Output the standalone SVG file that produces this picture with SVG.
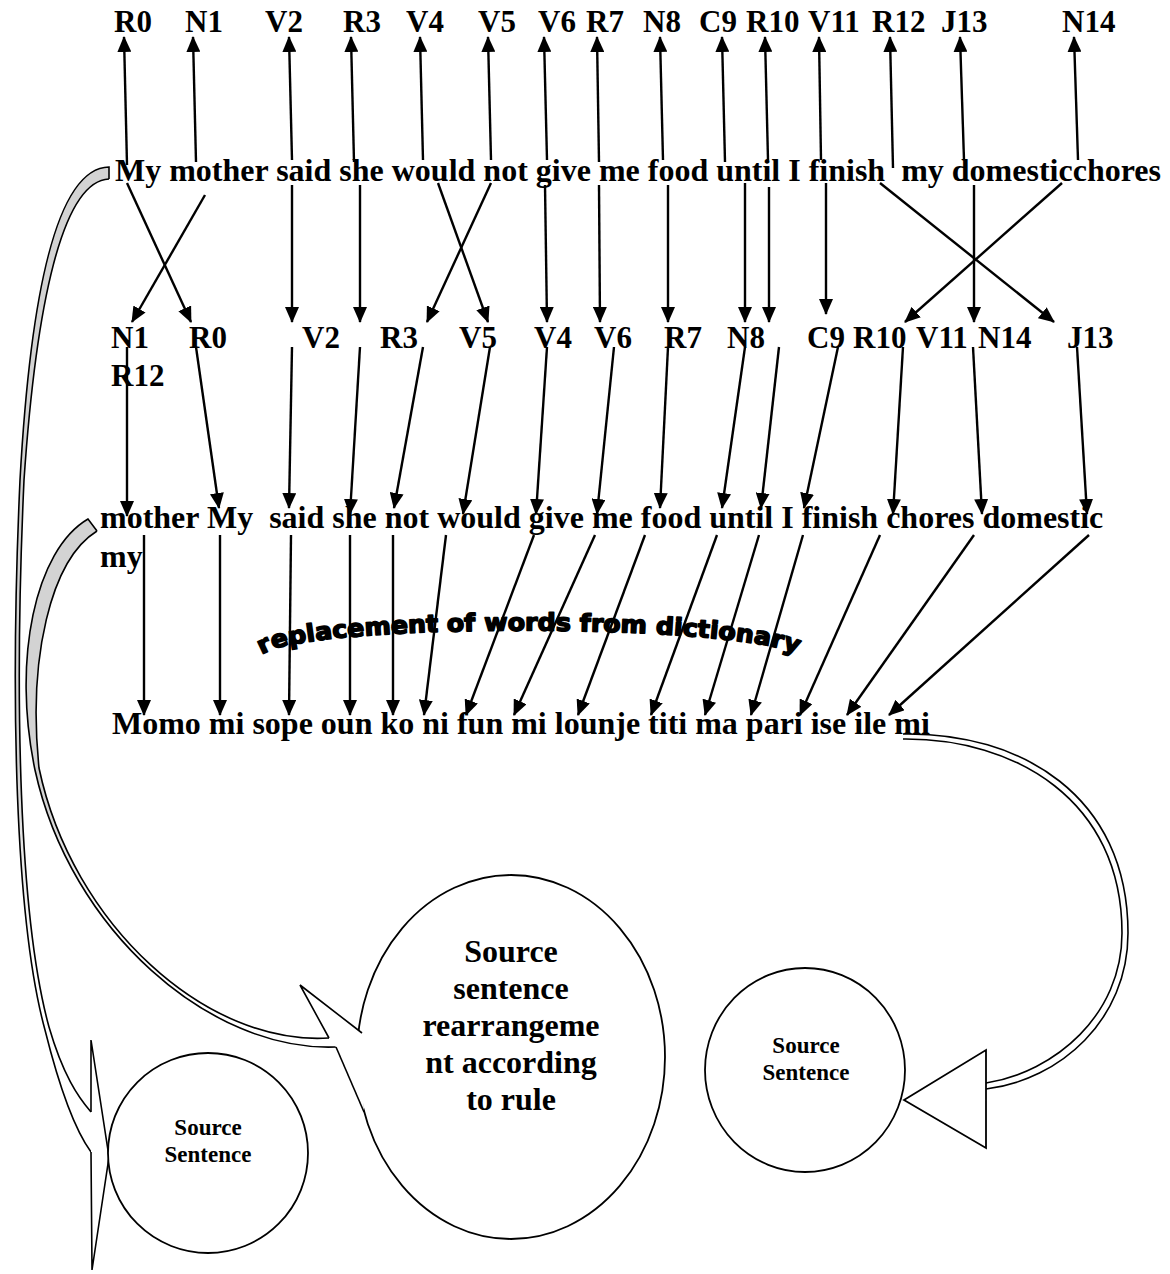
<svg xmlns="http://www.w3.org/2000/svg" width="1170" height="1274" viewBox="0 0 1170 1274">
<style>
.lbl{font-family:"Liberation Serif","Times New Roman",serif;font-weight:bold;font-size:31px;fill:#000}
.sen{font-family:"Liberation Serif","Times New Roman",serif;font-weight:bold;font-size:32px;fill:#000;white-space:pre}
.big{font-family:"Liberation Serif","Times New Roman",serif;font-weight:bold;font-size:32px;fill:#000;text-anchor:middle}
.sm{font-family:"Liberation Serif","Times New Roman",serif;font-weight:bold;font-size:23px;fill:#000;text-anchor:middle}
.arc{font-family:"DejaVu Sans","Liberation Sans",sans-serif;font-weight:bold;font-size:24px;fill:#000;stroke:#000;stroke-width:1.6;stroke-linejoin:round}
.c line{stroke:#000;stroke-width:2.4;marker-end:url(#ah)}
.shape{fill:#fff;stroke:#000;stroke-width:1.8}
.edge{fill:none;stroke:#000;stroke-width:1.6}
.wband{fill:#fff;stroke:none}
</style>
<defs>
<marker id="ah" viewBox="0 0 16 14" refX="15" refY="7" markerWidth="16" markerHeight="14" markerUnits="userSpaceOnUse" orient="auto"><path d="M0,0 L16,7 L0,14 z" fill="#000"/></marker>
<linearGradient id="g1" gradientUnits="userSpaceOnUse" x1="0" y1="160" x2="0" y2="1160">
<stop offset="0" stop-color="#d3d3d3"/><stop offset="0.6" stop-color="#d3d3d3"/><stop offset="0.8" stop-color="#fff"/><stop offset="1" stop-color="#fff"/>
</linearGradient>
<linearGradient id="g2" gradientUnits="userSpaceOnUse" x1="0" y1="515" x2="0" y2="1050">
<stop offset="0" stop-color="#d3d3d3"/><stop offset="0.55" stop-color="#d3d3d3"/><stop offset="0.75" stop-color="#fff"/><stop offset="1" stop-color="#fff"/>
</linearGradient>
<path id="arcpath" d="M262,655 C298,622 762,622 804,658"/>
</defs>

<!-- callout shapes -->
<g id="bubble-left">
<path fill="url(#g1)" d="M109,167 C55,168 30,300 20,480 C10,700 15,920 45,1030 C60,1090 75,1130 91,1152 L91,1112 C78,1097 63,1075 49,1027 C19,918 14,700 24,480 C36,305 62,181 109,179 Z"/>
<path class="edge" d="M109,179 L109,167 C55,168 30,300 20,480 C10,700 15,920 45,1030 C60,1090 75,1130 91,1152"/>
<path class="edge" d="M109,179 C62,181 36,305 24,480 C14,700 19,918 49,1027 C63,1075 78,1097 91,1112"/>
<path d="M91,1112 L91,1040 L109,1157 L92,1270 L91,1152 Z" fill="#fff" stroke="none"/>
<path class="edge" d="M91,1112 L91,1040 L109,1157 L92,1270 L91,1152"/>
<circle class="shape" cx="208" cy="1153" r="100"/>
<text class="sm" x="208" y="1135">Source</text>
<text class="sm" x="208" y="1162">Sentence</text>
</g>

<g id="bubble-middle">
<path fill="url(#g2)" d="M88,519 C35,550 12,660 35,770 C70,930 210,1052 336,1047 L329,1038 C207,1046 72,925 39,768 C28,660 50,560 97,531 Z"/>
<path class="edge" d="M97,531 L88,519 C35,550 12,660 35,770 C70,930 210,1052 336,1047"/>
<path class="edge" d="M97,531 C50,560 28,660 39,768 C72,925 207,1046 329,1038"/>
<ellipse class="shape" cx="511" cy="1057" rx="154" ry="182"/>
<path d="M329,1038 L300,985 L362,1033 L364,1112 L336,1047 Z" fill="#fff" stroke="none"/>
<path class="edge" d="M329,1038 L300,985 L362,1033"/>
<path class="edge" d="M364,1112 L336,1047"/>
<text class="big" x="511" y="962">Source</text>
<text class="big" x="511" y="999">sentence</text>
<text class="big" x="511" y="1036">rearrangeme</text>
<text class="big" x="511" y="1073">nt according</text>
<text class="big" x="511" y="1110">to rule</text>
</g>

<g id="bubble-right">
<path class="wband" d="M903,734 C1020,732 1128,795 1128,933 C1128,1020 1060,1080 986,1089 L986,1083 C1055,1072 1122,1015 1122,933 C1122,800 1015,738 903,739 Z"/>
<path class="edge" d="M903,734 C1020,732 1128,795 1128,933 C1128,1020 1060,1080 986,1089"/>
<path class="edge" d="M903,739 C1015,738 1122,800 1122,933 C1122,1015 1055,1072 986,1083"/>
<ellipse class="shape" cx="805" cy="1070" rx="100" ry="102"/>
<path class="shape" d="M904,1100 L986,1050 L986,1148 Z"/>
<text class="sm" x="806" y="1053">Source</text>
<text class="sm" x="806" y="1080">Sentence</text>
</g>

<!-- top tag row -->
<g id="tags-top">
<g id="t-R0"><text class="lbl" x="114" y="32">R0</text></g>
<g id="t-N1"><text class="lbl" x="185" y="32">N1</text></g>
<g id="t-V2"><text class="lbl" x="265" y="32">V2</text></g>
<g id="t-R3"><text class="lbl" x="343" y="32">R3</text></g>
<g id="t-V4"><text class="lbl" x="406" y="32">V4</text></g>
<g id="t-V5"><text class="lbl" x="478" y="32">V5</text></g>
<g id="t-V6"><text class="lbl" x="538" y="32">V6</text></g>
<g id="t-R7"><text class="lbl" x="586" y="32">R7</text></g>
<g id="t-N8"><text class="lbl" x="643" y="32">N8</text></g>
<g id="t-C9"><text class="lbl" x="699" y="32">C9</text></g>
<g id="t-R10"><text class="lbl" x="746" y="32">R10</text></g>
<g id="t-V11"><text class="lbl" x="808" y="32">V11</text></g>
<g id="t-R12"><text class="lbl" x="872" y="32">R12</text></g>
<g id="t-J13"><text class="lbl" x="941" y="32">J13</text></g>
<g id="t-N14"><text class="lbl" x="1062" y="32">N14</text></g>
</g>

<g id="sentence-source"><text class="sen" x="115" y="181" xml:space="preserve">My mother said she would not give me food until I finish  my domesticchores</text></g>

<!-- reordered tag row -->
<g id="tags-reordered">
<g id="r-N1"><text class="lbl" x="111" y="348">N1</text></g>
<g id="r-R12"><text class="lbl" x="111" y="386">R12</text></g>
<g id="r-R0"><text class="lbl" x="189" y="348">R0</text></g>
<g id="r-V2"><text class="lbl" x="302" y="348">V2</text></g>
<g id="r-R3"><text class="lbl" x="380" y="348">R3</text></g>
<g id="r-V5"><text class="lbl" x="459" y="348">V5</text></g>
<g id="r-V4"><text class="lbl" x="534" y="348">V4</text></g>
<g id="r-V6"><text class="lbl" x="594" y="348">V6</text></g>
<g id="r-R7"><text class="lbl" x="664" y="348">R7</text></g>
<g id="r-N8"><text class="lbl" x="727" y="348">N8</text></g>
<g id="r-C9"><text class="lbl" x="807" y="348">C9</text></g>
<g id="r-R10"><text class="lbl" x="853" y="348">R10</text></g>
<g id="r-V11"><text class="lbl" x="916" y="348">V11</text></g>
<g id="r-N14"><text class="lbl" x="978" y="348">N14</text></g>
<g id="r-J13"><text class="lbl" x="1067" y="348">J13</text></g>
</g>

<g id="sentence-rearranged">
<text class="sen" x="100" y="528" xml:space="preserve">mother My  said she not would give me food until I finish chores domestic</text>
<text class="sen" x="100" y="567">my</text>
</g>

<g id="label-replacement"><text class="arc"><textPath href="#arcpath" textLength="540" lengthAdjust="spacingAndGlyphs">replacement of words from dictionary</textPath></text></g>

<g id="sentence-target"><text class="sen" x="112" y="734">Momo mi sope oun ko ni fun mi lounje titi ma pari ise ile mi</text></g>

<!-- connectors -->
<g id="connectors" class="c">
<!-- sentence 1 up to tags -->
<line x1="127" y1="165" x2="124" y2="37"/>
<line x1="196" y1="162" x2="193" y2="37"/>
<line x1="292" y1="160" x2="289" y2="37"/>
<line x1="354" y1="162" x2="351" y2="37"/>
<line x1="423" y1="160" x2="420" y2="37"/>
<line x1="491" y1="160" x2="488" y2="37"/>
<line x1="547" y1="160" x2="544" y2="37"/>
<line x1="599" y1="162" x2="597" y2="37"/>
<line x1="663" y1="160" x2="660" y2="37"/>
<line x1="725" y1="162" x2="722" y2="37"/>
<line x1="768" y1="160" x2="765" y2="37"/>
<line x1="821" y1="160" x2="819" y2="37"/>
<line x1="893" y1="168" x2="890" y2="37"/>
<line x1="964" y1="160" x2="960" y2="37"/>
<line x1="1078" y1="160" x2="1074" y2="37"/>
<!-- sentence 1 down to reordered tags -->
<line x1="127" y1="183" x2="191" y2="322"/>
<line x1="205" y1="195" x2="132" y2="322"/>
<line x1="292" y1="185" x2="292" y2="322"/>
<line x1="360" y1="185" x2="360" y2="322"/>
<line x1="438" y1="183" x2="488" y2="322"/>
<line x1="491" y1="183" x2="427" y2="322"/>
<line x1="545" y1="185" x2="547" y2="322"/>
<line x1="599" y1="185" x2="600" y2="322"/>
<line x1="668" y1="185" x2="668" y2="322"/>
<line x1="745" y1="183" x2="745" y2="322"/>
<line x1="769" y1="187" x2="769" y2="322"/>
<line x1="826" y1="183" x2="826" y2="314"/>
<line x1="880" y1="183" x2="1054" y2="322"/>
<line x1="974" y1="185" x2="974" y2="322"/>
<line x1="1062" y1="183" x2="905" y2="322"/>
<!-- reordered tags down to sentence 2 -->
<line x1="127" y1="347" x2="127" y2="516"/>
<line x1="196" y1="347" x2="219" y2="508"/>
<line x1="292" y1="347" x2="289" y2="508"/>
<line x1="360" y1="347" x2="350" y2="514"/>
<line x1="423" y1="347" x2="394" y2="508"/>
<line x1="490" y1="347" x2="463" y2="514"/>
<line x1="547" y1="347" x2="536" y2="514"/>
<line x1="614" y1="347" x2="597" y2="514"/>
<line x1="668" y1="347" x2="660" y2="508"/>
<line x1="745" y1="347" x2="722" y2="508"/>
<line x1="779" y1="347" x2="761" y2="508"/>
<line x1="838" y1="347" x2="804" y2="508"/>
<line x1="903" y1="347" x2="893" y2="514"/>
<line x1="973" y1="347" x2="982" y2="514"/>
<line x1="1077" y1="347" x2="1087" y2="514"/>
<!-- sentence 2 down to target sentence -->
<line x1="144" y1="535" x2="144" y2="715"/>
<line x1="220" y1="535" x2="220" y2="715"/>
<line x1="291" y1="535" x2="289" y2="715"/>
<line x1="350" y1="535" x2="350" y2="715"/>
<line x1="393" y1="535" x2="393" y2="715"/>
<line x1="446" y1="535" x2="424" y2="715"/>
<line x1="534" y1="535" x2="466" y2="715"/>
<line x1="595" y1="535" x2="514" y2="715"/>
<line x1="645" y1="535" x2="578" y2="715"/>
<line x1="717" y1="535" x2="651" y2="715"/>
<line x1="759" y1="535" x2="705" y2="715"/>
<line x1="803" y1="535" x2="751" y2="715"/>
<line x1="880" y1="535" x2="800" y2="715"/>
<line x1="974" y1="535" x2="847" y2="715"/>
<line x1="1089" y1="535" x2="889" y2="715"/>
</g>
</svg>
